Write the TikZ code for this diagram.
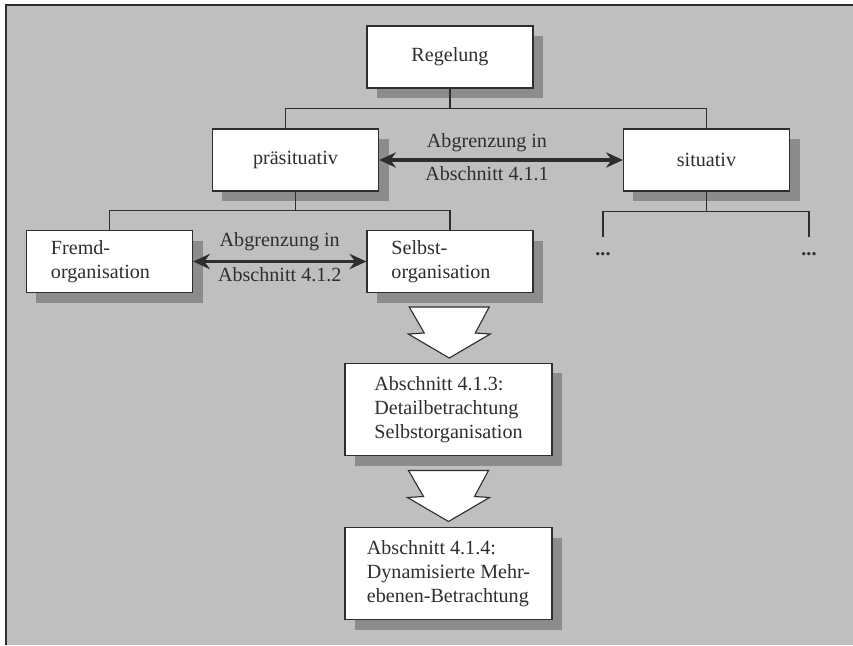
\documentclass[tikz,border=0pt]{standalone}
\usepackage{fontspec}
\setmainfont{Liberation Serif}
\usetikzlibrary{arrows.meta,shadows,calc}
\definecolor{paper}{gray}{0.75}
\definecolor{shade}{gray}{0.55}
\definecolor{ink}{gray}{0.18}

\begin{document}
\begin{tikzpicture}[x=0.025cm,y=-0.025cm,font=\fontsize{14.3}{17}\selectfont]

	\tikzstyle box=[draw=ink, line width=0.8pt, fill=white, text=ink, minimum width=4.15cm, minimum height=1.55cm, drop shadow={shadow xshift=0.25cm, shadow yshift=-0.25cm, fill=shade, opacity=1}];
	\tikzstyle left box=[text width=2.925cm, inner xsep=0.6cm, align=left];
	\tikzstyle big box=[minimum width=5.175cm, minimum height=2.3cm, align=left];
	\tikzstyle dots=[inner sep=0pt, minimum height=1.05cm, text=ink];
	\tikzstyle tree lines=[draw=ink, line width=1.3pt];
	\tikzstyle boundary arrow=[{Stealth[length=0.42cm, width=0.38cm]}-{Stealth[length=0.42cm, width=0.38cm]}, draw=ink, line width=2.2pt];
	\tikzstyle label text=[text=ink];
	\tikzstyle block arrow=[draw=ink, line width=0.8pt, fill=white, line join=miter];

	% page and frame
	\useasboundingbox (0,0) rectangle (853,645);
	\fill[white] (0,0) rectangle (853,645);
	\fill[paper] (6,5) rectangle (853,645);
	\draw[ink, line width=1.4pt] (6,645) -- (6,5) -- (853,5);

	\node[box] (regelung) at (450,57) {Regelung};
	\node[box] (prae) at (295.5,160) {präsituativ};
	\node[box] (sit) at (706.5,160) {situativ};
	\node[box, left box] (fremd) at (109.5,261.5) {Fremd-\\organisation};
	\node[box, left box] (selbst) at (450,261.5) {Selbst-\\organisation};
	\node[box, big box] (detail) at (448.5,409.5) {Abschnitt 4.1.3:\\Detailbetrachtung\\Selbstorganisation};
	\node[box, big box] (dynamik) at (448.5,573.5) {Abschnitt 4.1.4:\\Dynamisierte Mehr-\\ebenen-Betrachtung};
	\node[dots] (dotsl) at (603,254) {\bfseries ...};
	\node[dots] (dotsr) at (809,254) {\bfseries ...};

	% tree
	\draw[tree lines] (regelung.south) -- ++(0,20) -| ([xshift=-0.25cm]prae.north);
	\draw[tree lines] (regelung.south) -- ++(0,20) -| (sit.north);
	\draw[tree lines] (prae.south) -- ++(0,19) -| (fremd.north);
	\draw[tree lines] (prae.south) -- ++(0,19) -| (selbst.north);
	\draw[tree lines] (sit.south) -- ++(0,20) -| ([yshift=-0.1cm]dotsl.north);
	\draw[tree lines] (sit.south) -- ++(0,20) -| ([yshift=-0.1cm]dotsr.north);

	% Abgrenzungen
	\draw[boundary arrow] (prae.east) -- (sit.west)
		node[label text, midway, above, xshift=-0.35cm, yshift=0.06cm] (grenze1a) {Abgrenzung in}
		node[label text, midway, below, xshift=-0.35cm] (grenze1b) {Abschnitt 4.1.1};
	\draw[boundary arrow] (fremd.east) -- (selbst.west)
		node[label text, midway, above, yshift=0.12cm] (grenze2a) {Abgrenzung in}
		node[label text, midway, below] (grenze2b) {Abschnitt 4.1.2};

	% block arrows
	\foreach \a/\b in {selbst/detail, detail/dynamik}
	{
		\coordinate (mitte) at ($(\a.south)!0.5!(\b.north)$);
		\draw[block arrow, shift={(mitte)}] (-40,-21) -- (-25,5) -- (-41,6) -- (0,30) -- (41,6) -- (26,5) -- (40,-21) -- cycle;
	}

\end{tikzpicture}
\end{document}
